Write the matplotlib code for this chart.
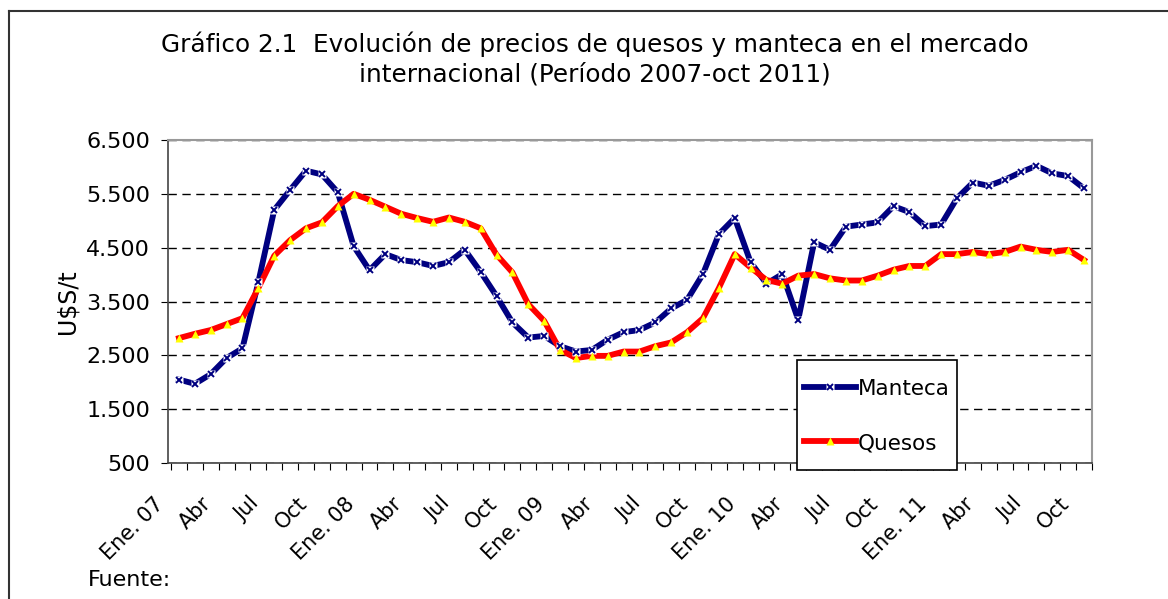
import matplotlib
matplotlib.use("Agg")
import matplotlib.pyplot as plt
import numpy as np
from matplotlib.lines import Line2D
from matplotlib.patches import Rectangle
from matplotlib.legend_handler import HandlerTuple
from matplotlib.ticker import FuncFormatter

# monthly prices, Jan 2007 - Oct 2011 (U$S/t)
manteca = [2050, 1970, 2150, 2450, 2630, 3860, 5200, 5570, 5930, 5860,
           5530, 4530, 4080, 4380, 4270, 4230, 4160, 4230, 4460, 4050,
           3600, 3110, 2830, 2860, 2670, 2570, 2600, 2790, 2930, 2970,
           3110, 3370, 3530, 4010, 4750, 5050, 4230, 3830, 4010, 3160,
           4600, 4460, 4890, 4930, 4970, 5270, 5160, 4900, 4930, 5420,
           5710, 5650, 5760, 5900, 6020, 5880, 5830, 5600]
quesos = [2820, 2900, 2970, 3080, 3190, 3750, 4350, 4640, 4860, 4970,
          5270, 5500, 5390, 5260, 5130, 5050, 4980, 5060, 4980, 4860,
          4370, 4040, 3450, 3140, 2600, 2450, 2490, 2490, 2570, 2570,
          2670, 2740, 2930, 3190, 3750, 4380, 4130, 3900, 3830, 3980,
          4010, 3930, 3890, 3890, 3980, 4090, 4160, 4160, 4380, 4380,
          4420, 4380, 4420, 4520, 4460, 4420, 4460, 4270]
mes_labels = ["Ene. 07", "Abr", "Jul", "Oct", "Ene. 08", "Abr", "Jul", "Oct",
              "Ene. 09", "Abr", "Jul", "Oct", "Ene. 10", "Abr", "Jul", "Oct",
              "Ene. 11", "Abr", "Jul", "Oct"]
y_ticks = [500, 1500, 2500, 3500, 4500, 5500, 6500]

navy = "#000080"
W, H = 1168, 599
fig = plt.figure(figsize=(W / 100, H / 100), dpi=100)
ax = fig.add_axes([168 / W, 1 - 463 / H, 924 / W, 323 / H])

x = np.arange(len(manteca))
ax.plot(x, manteca, color=navy, lw=4.2, zorder=3)
ax.plot(x, manteca, ls="none", marker="s", ms=6, mfc="white", mec="none", zorder=4)
ax.plot(x, manteca, ls="none", marker="x", ms=4, mew=1.4, mec=navy, zorder=5)
ax.plot(x, quesos, color="red", lw=4.2, zorder=3)
ax.plot(x, quesos, ls="none", marker="^", ms=6, mfc="#ffff00", mec="none", zorder=5)

ax.set_xlim(-0.5, len(manteca) - 0.5)
ax.set_ylim(500, 6500)
ax.set_yticks(y_ticks)
ax.yaxis.set_major_formatter(FuncFormatter(lambda v, p: f"{int(v):,}".replace(",", ".")))
ax.yaxis.grid(True, color="black", ls=(0, (6, 4)), lw=1)
ax.set_axisbelow(True)

# category boundaries as ticks, a label every 3 months
ax.set_xticks(np.arange(-0.5, len(manteca), 1))
ax.set_xticklabels([])
lab_pos = np.arange(len(mes_labels)) * 3 - 0.69
ax.set_xticks(lab_pos, minor=True)
ax.set_xticklabels(mes_labels, minor=True, rotation=45, ha="right", va="top",
                   fontsize=15)
ax.tick_params(axis="x", which="major", length=5, direction="out", color="black")
ax.tick_params(axis="x", which="minor", length=0, pad=22)
ax.tick_params(axis="y", length=5, labelsize=16, pad=8)

for s in ["top", "right"]:
    ax.spines[s].set_color("#999999")
    ax.spines[s].set_linewidth(1.5)
for s in ["left", "bottom"]:
    ax.spines[s].set_color("#444444")
    ax.spines[s].set_linewidth(1.2)

ax.set_ylabel("U$S/t", fontsize=17, labelpad=5)

fig.text(0.509, 1 - 59 / H,
         "Gráfico 2.1  Evolución de precios de quesos y manteca en el mercado\ninternacional (Período 2007-oct 2011)",
         ha="center", va="center", fontsize=17.8, linespacing=1.3)
fig.text(88 / W, 1 - 580 / H, "Fuente:", fontsize=16, va="center")

# chart area border
fig.add_artist(Line2D([9 / W, 9 / W], [0, 1 - 11 / H], color="#333333", lw=1.5,
                      transform=fig.transFigure))
fig.add_artist(Line2D([9 / W, 1], [1 - 11 / H, 1 - 11 / H], color="#333333", lw=1.5,
                      transform=fig.transFigure))

# legend box
fig.add_artist(Rectangle((797 / W, 1 - 470 / H), 160 / W, 110 / H, transform=fig.transFigure,
                         facecolor="white", edgecolor="black", lw=1.2, zorder=9))
h_man = (Line2D([], [], color=navy, lw=4.2),
         Line2D([], [], ls="none", marker="s", ms=6, mfc="white", mec="none"),
         Line2D([], [], ls="none", marker="x", ms=4, mew=1.4, mec=navy))
h_que = (Line2D([], [], color="red", lw=4.2),
         Line2D([], [], ls="none", marker="^", ms=6, mfc="#ffff00", mec="none"))
leg = fig.legend([h_man, h_que], ["Manteca", "Quesos"],
                 handler_map={tuple: HandlerTuple(ndivide=1, pad=0)}, numpoints=1,
                 loc="center", bbox_to_anchor=(877 / W, 1 - 416 / H),
                 fontsize=15.5, frameon=False,
                 handlelength=2.4, handletextpad=0.1, labelspacing=1.58,
                 borderpad=0.2, borderaxespad=0)
leg.set_zorder(10)

fig.savefig("out.png", dpi=100)
